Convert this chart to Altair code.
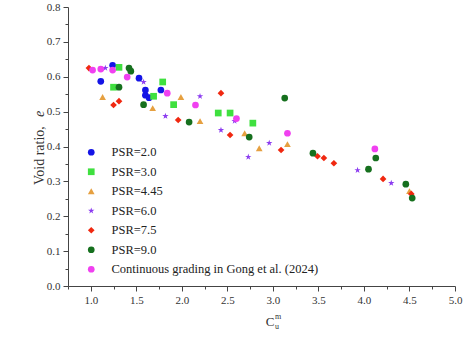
import altair as alt
import pandas as pd

# Void ratio against the modified uniformity coefficient, one series per PSR
series_names = [
    "PSR=2.0",
    "PSR=3.0",
    "PSR=4.45",
    "PSR=6.0",
    "PSR=7.5",
    "PSR=9.0",
    "Continuous grading in Gong et al. (2024)",
]

psr20_x = [1.24, 1.11, 1.53, 1.77, 1.60, 1.60, 1.64]
psr20_y = [0.633, 0.587, 0.596, 0.562, 0.562, 0.547, 0.540]

psr30_x = [1.31, 1.25, 1.79, 1.69, 1.91, 2.40, 2.53, 2.78]
psr30_y = [0.627, 0.570, 0.585, 0.544, 0.520, 0.496, 0.496, 0.467]

psr445_x = [1.13, 1.68, 1.99, 2.20, 2.69, 2.85, 3.16, 4.50]
psr445_y = [0.542, 0.510, 0.542, 0.473, 0.438, 0.395, 0.407, 0.272]

psr60_x = [1.16, 1.58, 2.20, 1.82, 2.43, 2.58, 2.96, 2.73, 3.93, 4.30]
psr60_y = [0.625, 0.585, 0.544, 0.487, 0.447, 0.473, 0.410, 0.370, 0.332, 0.295]

psr75_x = [0.98, 1.25, 1.31, 1.96, 2.43, 2.53, 3.09, 3.49, 3.56, 3.67, 4.21, 4.52]
psr75_y = [0.625, 0.519, 0.530, 0.476, 0.553, 0.433, 0.390, 0.372, 0.367, 0.352, 0.307, 0.264]

psr90_x = [1.42, 1.44, 1.31, 1.58, 2.08, 2.74, 3.13, 3.44, 4.05, 4.13, 4.46, 4.53]
psr90_y = [0.625, 0.616, 0.570, 0.520, 0.470, 0.427, 0.539, 0.381, 0.335, 0.367, 0.292, 0.252]

gong_x = [1.02, 1.11, 1.24, 1.40, 1.84, 2.15, 2.60, 3.16, 4.12]
gong_y = [0.619, 0.622, 0.619, 0.599, 0.553, 0.519, 0.480, 0.438, 0.393]

series_x = [psr20_x, psr30_x, psr445_x, psr60_x, psr75_x, psr90_x, gong_x]
series_y = [psr20_y, psr30_y, psr445_y, psr60_y, psr75_y, psr90_y, gong_y]

x_ticks = [1.0, 1.5, 2.0, 2.5, 3.0, 3.5, 4.0, 4.5, 5.0]
y_ticks = [0.0, 0.1, 0.2, 0.3, 0.4, 0.5, 0.6, 0.7, 0.8]

colors = ["#1414e6", "#3fe03f", "#e6a040", "#8c3cf0", "#f02810", "#16701e", "#f040f0"]
star = ("M0,-1L0.2245,-0.309L0.951,-0.309L0.363,0.118L0.588,0.809L0,0.382"
        "L-0.588,0.809L-0.363,0.118L-0.951,-0.309L-0.2245,-0.309Z")
shapes = ["circle", "square", "triangle-up", star, "diamond", "circle", "circle"]

rows = []
for name, xs, ys in zip(series_names, series_x, series_y):
    for xv, yv in zip(xs, ys):
        rows.append({"series": name, "cu": xv, "e": yv})
df = pd.DataFrame(rows)

serif = "Liberation Serif"
axis_col = "#444444"

# half-step ticks between labelled ones act as minor ticks
x_all = [round(0.75 + 0.25 * i, 2) for i in range(18)]
y_all = [round(0.05 * i, 2) for i in range(17)]

x_axis = alt.Axis(
    values=x_all,
    labelExpr="abs(datum.value*2 - round(datum.value*2)) < 0.001 ? format(datum.value, '.1f') : ''",
    tickSize={"condition": {"test": "abs(datum.value*2 - round(datum.value*2)) < 0.001", "value": 5}, "value": 3},
    grid=False, title=None, labelFont=serif, labelFontSize=11, labelColor="#333333",
    domainColor=axis_col, tickColor=axis_col, labelPadding=3, labelFlush=False,
)
y_axis = alt.Axis(
    values=y_all,
    labelExpr="abs(datum.value*10 - round(datum.value*10)) < 0.001 ? format(datum.value, '.1f') : ''",
    tickSize={"condition": {"test": "abs(datum.value*10 - round(datum.value*10)) < 0.001", "value": 5}, "value": 3},
    grid=False, title=None, labelFont=serif, labelFontSize=11, labelColor="#333333",
    domainColor=axis_col, tickColor=axis_col, labelPadding=3, labelFlush=False,
)

points = alt.Chart(df).mark_point(filled=True, size=45, opacity=1).encode(
    x=alt.X("cu:Q", scale=alt.Scale(domain=[0.75, 5.0], nice=False, zero=False), axis=x_axis),
    y=alt.Y("e:Q", scale=alt.Scale(domain=[0.0, 0.8], nice=False), axis=y_axis),
    color=alt.Color(
        "series:N",
        scale=alt.Scale(domain=series_names, range=colors),
        legend=alt.Legend(
            title=None, orient="none", legendX=17, legendY=139,
            labelFont=serif, labelFontSize=12.5, labelColor="#222222",
            symbolSize=45, rowPadding=6.5, labelOffset=14, labelLimit=400,
        ),
    ),
    shape=alt.Shape("series:N", scale=alt.Scale(domain=series_names, range=shapes), legend=None),
)

# x-axis title: C with stacked superscript m and subscript u
c_main = alt.Chart(pd.DataFrame({"t": ["C"]})).mark_text(
    font=serif, fontSize=13, color="#333333", align="center", baseline="middle"
).encode(x=alt.value(202), y=alt.value(315), text="t:N")
c_sup = alt.Chart(pd.DataFrame({"t": ["m"]})).mark_text(
    font=serif, fontSize=8, color="#333333", align="left", baseline="middle"
).encode(x=alt.value(207), y=alt.value(310), text="t:N")
c_sub = alt.Chart(pd.DataFrame({"t": ["u"]})).mark_text(
    font=serif, fontSize=8, color="#333333", align="left", baseline="middle"
).encode(x=alt.value(207), y=alt.value(320), text="t:N")

# y-axis title with italic e
y_main = alt.Chart(pd.DataFrame({"t": ["Void ratio,"]})).mark_text(
    font=serif, fontSize=14, color="#333333", align="left", baseline="middle", angle=270
).encode(x=alt.value(-28), y=alt.value(178), text="t:N")
y_e = alt.Chart(pd.DataFrame({"t": ["e"]})).mark_text(
    font=serif, fontSize=14, fontStyle="italic", color="#333333", align="left", baseline="middle", angle=270
).encode(x=alt.value(-28), y=alt.value(110), text="t:N")

chart = alt.layer(points, c_main, c_sup, c_sub, y_main, y_e).properties(
    width=387, height=279,
    autosize=alt.AutoSizeParams(type="none"),
    padding={"left": 68, "top": 7, "right": 18, "bottom": 58},
    background="white",
).configure_view(stroke=None)

chart.save("out.html", embed_options={"renderer": "svg", "actions": False})
